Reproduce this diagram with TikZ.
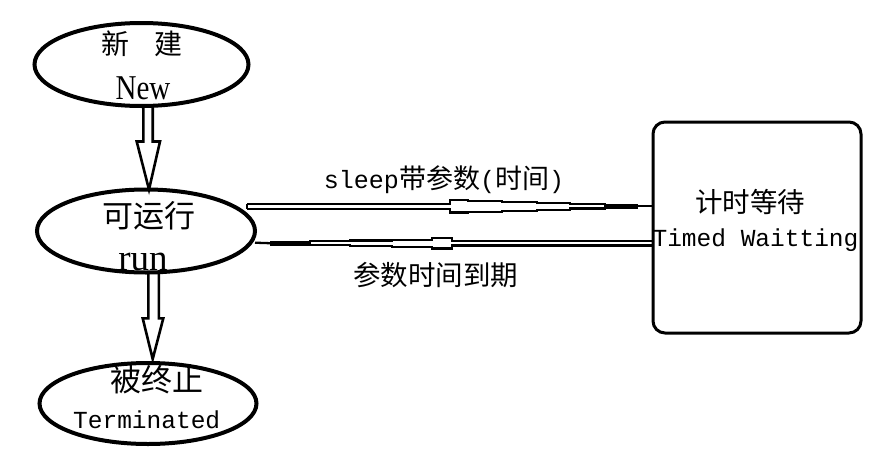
\documentclass[tikz,border=0pt]{standalone}
\usepackage{fontspec}
\setmainfont{Liberation Serif}
\newfontfamily\cjk{Noto Sans CJK SC}
\newfontfamily\mono{Liberation Mono}
\usetikzlibrary{calc,shapes.geometric}
\begin{document}
\begin{tikzpicture}[x=1pt,y=-1pt,
  state/.style={ellipse, draw, line width=4pt, inner sep=0pt, outer sep=0pt},
  timedbox/.style={draw, line width=3pt, rounded corners=12pt, inner sep=0pt, outer sep=0pt},
  cjkt/.style={inner sep=0pt, font=\cjk\fontsize{#1}{#1}\selectfont},
  monot/.style={inner sep=0pt, anchor=base, font=\mono\fontsize{24.5}{28}\selectfont},
  serift/.style={inner sep=0pt, anchor=base, font=\fontsize{#1}{#1}\selectfont},
  hollow/.style={draw, line width=2.6pt, line join=miter},
  conn/.style={draw, line width=2.3pt, line join=miter}]
\useasboundingbox (0,0) rectangle (891,466);

% states
\node[state, minimum width=214pt, minimum height=83pt] (new) at (141.5,64.5) {};
\node[state, minimum width=218pt, minimum height=83pt] (run) at (146,231) {};
\node[state, minimum width=217pt, minimum height=81pt] (term) at (148,403.5) {};
\node[timedbox, minimum width=208pt, minimum height=211pt] (timed) at (757,227.5) {};

% texts
\node[cjkt=28] (tnew) at (142,44) {新\hspace{0.9em}建};
\node[serift=29] (tnewl) at (143,99.5) {\scalebox{1}[1.2]{New}};
\node[cjkt=31] (trun) at (149,216) {可运行};
\node[serift=37] (trunl) at (143,270) {run};
\node[cjkt=31] (tterm) at (157,380) {被终止};
\node[monot] (tterml) at (146.7,428) {Terminated};
\node[cjkt=27.5] (ttimed) at (750,202) {计时等待};
\node[monot] (ttimedl) at (755.5,246.5) {Timed Waitting};
\node[inner sep=0pt, anchor=base] (lsleep) at (444,188.5)
  {{\mono\fontsize{25}{28}\selectfont sleep}{\cjk\fontsize{27}{28}\selectfont 带参数}{\mono\fontsize{25}{28}\selectfont (}{\cjk\fontsize{27}{28}\selectfont 时间}{\mono\fontsize{25}{28}\selectfont )}};
\node[cjkt=27.5] (lexp) at (435.5,275) {参数时间到期};

% vertical hollow arrows
\coordinate (a1s) at ($(new.south)+(6.5,0)$);
\coordinate (a1e) at ($(run.north)+(3,0)$);
\draw[hollow] let \p1=(a1s), \p2=(a1e) in
  (\x1-4.7pt,\y1) -- (\x1-4.7pt,\y2+48pt) -- (\x1-11.3pt,\y2+48pt) -- (\x2,\y2)
  -- (\x1+12pt,\y2+48pt) -- (\x1+4.7pt,\y2+48pt) -- (\x1+4.7pt,\y1);

\coordinate (a2s) at ($(run.south)+(7.6,0)$);
\coordinate (a2e) at ($(term.north)+(4.7,-4)$);
\draw[hollow] let \p1=(a2s), \p2=(a2e) in
  (\x1-5.3pt,\y1) -- (\x1-5.3pt,\y2+40.7pt) -- (\x1-10.9pt,\y2+40.7pt) -- (\x2,\y2)
  -- (\x1+9.7pt,\y2+40.7pt) -- (\x1+5.3pt,\y2+40.7pt) -- (\x1+5.3pt,\y1);

% run -> timed waiting (sleep)
\coordinate (s1) at ($(run.east)+(-8,-24.7)$);
\coordinate (e1) at ($(timed.west)+(0,-21.2)$);
\foreach \s in {1,-1}{
\draw[conn] let \p1=(s1) in
  (\x1,\y1+\s*2.5pt) -- (\x1+203pt,\y1+\s*2.5pt) -- (\x1+203pt,\y1+\s*6.25pt)
  -- (\x1+221pt,\y1+\s*6.25pt) -- (\x1+221pt,\y1+\s*5.5pt) -- (\x1+255pt,\y1+\s*5.5pt)
  -- (\x1+255pt,\y1+\s*4.6pt) -- (\x1+290pt,\y1+\s*4.6pt) -- (\x1+290pt,\y1+\s*3.4pt)
  -- (\x1+323pt,\y1+\s*3.4pt) -- (\x1+323pt,\y1+\s*2.2pt) -- (\x1+358pt,\y1+\s*2.2pt)
  -- (\x1+358pt,\y1+\s*1.15pt) -- (\x1+391pt,\y1+\s*1.15pt);
}
\draw[conn] let \p1=(s1) in (\x1,\y1+2.5pt) -- (\x1,\y1-2.5pt);
\draw[conn] let \p1=(s1) in (\x1+391pt,\y1) -- (e1);

% timed waiting -> run (time expired)
\coordinate (s2) at ($(timed.west)+(0,15.7)$);
\coordinate (e2) at ($(run.east)+(0,11.7)$);
\foreach \s in {1,-1}{
\draw[conn] let \p1=(s2) in
  (\x1,\y1+\s*2.4pt) -- (\x1-201pt,\y1+\s*2.4pt) -- (\x1-201pt,\y1+\s*5.25pt)
  -- (\x1-221pt,\y1+\s*5.25pt) -- (\x1-221pt,\y1+\s*3.5pt) -- (\x1-261pt,\y1+\s*3.5pt)
  -- (\x1-261pt,\y1+\s*2.7pt) -- (\x1-303pt,\y1+\s*2.7pt) -- (\x1-303pt,\y1+\s*2pt)
  -- (\x1-343pt,\y1+\s*2pt) -- (\x1-343pt,\y1+\s*1.15pt) -- (\x1-383pt,\y1+\s*1.15pt);
}
\draw[conn] let \p1=(s2) in (\x1,\y1+2.4pt) -- (\x1,\y1-2.4pt);
\draw[conn] let \p1=(s2) in (\x1-383pt,\y1) -- (e2);
\end{tikzpicture}
\end{document}
